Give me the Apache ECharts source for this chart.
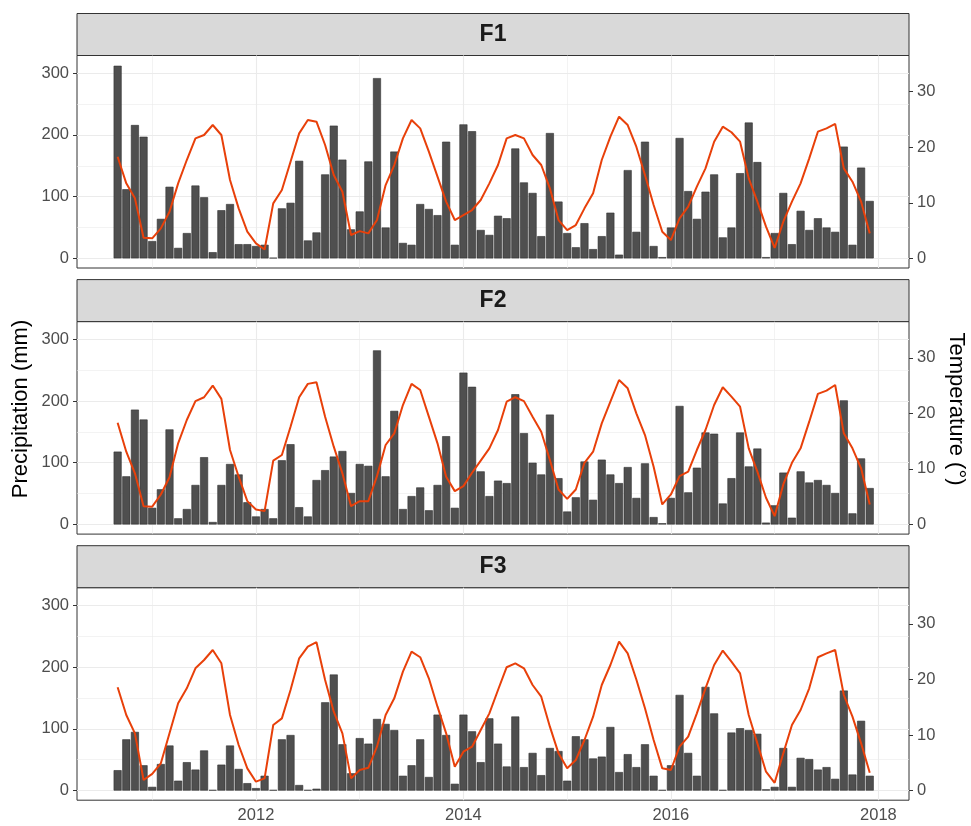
<!DOCTYPE html>
<html>
<head>
<meta charset="utf-8">
<title>Precipitation and temperature by site</title>
<script src="https://cdn.jsdelivr.net/npm/echarts@6/dist/echarts.min.js"></script>
<style>
  html, body { margin: 0; padding: 0; background: #fff; }
  #chart { width: 971px; height: 826px; }
</style>
</head>
<body>
<div id="chart"></div>
<script>
// monthly series, Sep 2010 .. Dec 2017 (88 months)
const firstYear = 2010;
const firstMonth = 9;
const facetNames = ["F1", "F2", "F3"];
const yearTicks = [2012, 2014, 2016, 2018];
const yearMinor = [2011, 2013, 2015, 2017];
const precipTicks = [0, 100, 200, 300];
const precipMinor = [50, 150, 250];
const tempTicks = [0, 10, 20, 30];

const precipF1 = [
  312, 112, 216, 197,
  28, 64, 116, 17, 41, 118, 99, 10, 78, 88, 23, 23,
  20, 22, 1, 81, 90, 158, 29, 42, 136, 215, 160, 47,
  76, 157, 292, 50, 173, 25, 22, 88, 80, 70, 189, 22,
  217, 206, 46, 38, 69, 65, 178, 123, 106, 36, 203, 92,
  41, 18, 57, 15, 36, 74, 6, 143, 43, 189, 20, 2,
  50, 195, 109, 64, 108, 136, 34, 50, 138, 220, 156, 2,
  41, 106, 23, 77, 46, 65, 50, 43, 181, 22, 147, 93
];
const tempF1 = [
  18.3, 13.5, 10.8, 3.7,
  3.6, 5.4, 8.4, 13.5, 17.7, 21.6, 22.2, 24.0, 22.2, 14.1, 9.0, 4.8,
  2.7, 1.6, 9.9, 12.3, 17.4, 22.5, 24.9, 24.6, 20.4, 15.0, 12.0, 4.2,
  4.9, 4.5, 6.9, 13.2, 16.8, 21.6, 24.9, 23.4, 19.2, 14.7, 10.2, 6.9,
  7.8, 8.7, 10.5, 13.5, 16.8, 21.6, 22.2, 21.6, 18.6, 16.8, 12.6, 6.9,
  5.1, 6.0, 9.0, 11.7, 17.7, 21.9, 25.5, 24.0, 20.1, 15.0, 9.6, 4.8,
  3.3, 7.2, 9.3, 12.9, 16.2, 21.0, 23.7, 22.7, 21.0, 14.4, 10.2, 5.7,
  1.9, 6.6, 10.2, 13.5, 18.0, 22.8, 23.4, 24.2, 16.2, 13.8, 10.2, 4.5
];

const precipF2 = [
  118, 78, 186, 170,
  27, 57, 154, 10, 25, 64, 109, 4, 64, 98, 81, 36,
  13, 25, 10, 104, 130, 28, 13, 72, 88, 110, 119, 51,
  98, 95, 282, 78, 184, 25, 46, 60, 23, 64, 143, 27,
  246, 223, 86, 46, 71, 67, 211, 148, 100, 81, 178, 75,
  21, 44, 102, 40, 105, 81, 67, 93, 43, 99, 12, 2,
  43, 192, 52, 92, 149, 147, 34, 75, 149, 94, 123, 3,
  31, 84, 11, 86, 68, 72, 64, 51, 201, 18, 107, 59
];
const tempF2 = [
  18.3, 13.1, 9.2, 3.3,
  3.2, 5.4, 8.5, 14.6, 18.8, 22.2, 22.9, 25.0, 22.6, 13.4, 8.6, 4.2,
  2.7, 2.4, 11.5, 12.5, 17.6, 22.9, 25.3, 25.6, 19.4, 14.0, 9.2, 3.3,
  4.2, 4.2, 8.7, 14.3, 16.4, 21.5, 25.3, 24.2, 19.4, 14.6, 8.6, 6.0,
  6.9, 9.3, 11.5, 13.7, 17.0, 22.1, 22.9, 22.2, 19.4, 16.7, 11.6, 6.3,
  4.6, 6.3, 11.1, 13.1, 18.2, 22.1, 26.0, 24.5, 20.0, 16.1, 10.4, 3.6,
  5.4, 8.7, 9.5, 13.4, 17.0, 21.5, 24.7, 23.0, 21.2, 13.7, 9.5, 4.8,
  1.5, 7.2, 11.1, 13.7, 18.5, 23.5, 24.1, 25.1, 16.4, 13.7, 10.1, 3.6
];

const precipF3 = [
  33, 83, 95, 41,
  6, 43, 73, 16, 46, 34, 65, 1, 42, 73, 35, 12,
  4, 24, 1, 83, 90, 9, 1, 3, 143, 188, 75, 28,
  85, 76, 116, 108, 98, 24, 41, 83, 22, 123, 90, 11,
  123, 96, 46, 117, 76, 39, 120, 38, 61, 25, 69, 64,
  16, 88, 83, 52, 55, 103, 30, 59, 38, 75, 24, 1,
  41, 155, 61, 24, 168, 125, 1, 94, 101, 98, 92, 2,
  6, 69, 6, 53, 51, 34, 38, 19, 162, 26, 113, 24
];
const tempF3 = [
  18.6, 13.6, 10.3, 1.9,
  3.0, 4.9, 10.3, 15.7, 18.4, 22.0, 23.5, 25.3, 22.9, 13.6, 8.2, 4.0,
  1.6, 2.2, 11.8, 13.0, 18.1, 23.8, 25.9, 26.7, 19.9, 14.2, 10.3, 2.2,
  3.7, 4.1, 7.9, 13.6, 16.6, 21.4, 25.0, 24.0, 20.2, 15.1, 10.3, 4.3,
  7.0, 7.9, 10.9, 13.9, 18.1, 22.2, 22.9, 22.0, 19.0, 16.9, 11.5, 6.7,
  4.0, 5.5, 9.1, 13.3, 19.0, 22.6, 26.8, 24.7, 20.0, 14.8, 9.1, 4.0,
  3.7, 7.9, 9.7, 13.9, 18.4, 22.6, 25.2, 23.2, 21.1, 13.6, 8.5, 3.4,
  1.4, 6.7, 11.8, 14.5, 18.4, 24.0, 24.7, 25.3, 17.2, 13.3, 8.5, 3.2
];

const precipByFacet = [precipF1, precipF2, precipF3];
const tempByFacet = [tempF1, tempF2, tempF3];

// month -> decimal year (bar centred on the 1st of the month)
const monthPos = precipF1.map((_, i) => firstYear + (firstMonth - 1 + i) / 12);

// layout (px)
const plotLeft = 77;
const plotWidth = 832;
const plotHeight = 212.5;
const stripHeight = 42;
const panelTop = [55.5, 321.6, 587.7];

// axis ranges (ggplot 5% expansion); temperature axis = precip / 9
const xMin = 2010.275, xMax = 2018.295;
const pMin = -15.6, pMax = 328.6;
const tMin = pMin / 9, tMax = pMax / 9;

const fontFamily = "'Liberation Sans', Arial, sans-serif";
const gridColor = "#EBEBEB";
const darkLine = "#333333";
const labelColor = "#4D4D4D";
const tickFont = 16.5;

const grids = [], xAxes = [], yAxes = [], series = [], graphics = [];

facetNames.forEach((name, g) => {
  const top = panelTop[g];
  const isBottom = g === facetNames.length - 1;

  grids.push({
    left: plotLeft, top: top, width: plotWidth, height: plotHeight,
    show: true, borderColor: darkLine, borderWidth: 1,
    backgroundColor: "transparent"
  });

  xAxes.push({
    type: "value", gridIndex: g, min: xMin, max: xMax,
    axisLine: { show: false },
    splitLine: { show: false },
    axisTick: {
      show: isBottom, length: 4, customValues: yearTicks,
      lineStyle: { color: darkLine, width: 1 }
    },
    axisLabel: {
      show: isBottom, customValues: yearTicks, margin: 7,
      color: labelColor, fontSize: tickFont, fontFamily: fontFamily,
      formatter: (v) => String(Math.round(v))
    }
  });

  yAxes.push({
    type: "value", gridIndex: g, position: "left", min: pMin, max: pMax,
    axisLine: { show: false },
    splitLine: { show: false },
    axisTick: {
      show: true, length: 4, customValues: precipTicks,
      lineStyle: { color: darkLine, width: 1 }
    },
    axisLabel: {
      customValues: precipTicks, margin: 8,
      color: labelColor, fontSize: tickFont, fontFamily: fontFamily
    }
  });
  yAxes.push({
    type: "value", gridIndex: g, position: "right", min: tMin, max: tMax,
    axisLine: { show: false },
    splitLine: { show: false },
    axisTick: {
      show: true, length: 4, customValues: tempTicks,
      lineStyle: { color: darkLine, width: 1 }
    },
    axisLabel: {
      customValues: tempTicks, margin: 8,
      color: labelColor, fontSize: tickFont, fontFamily: fontFamily
    }
  });

  // panel grid lines (major + minor, theme_bw style)
  const gridLines = [];
  precipTicks.forEach((v) => gridLines.push({ yAxis: v, lineStyle: { width: 1.1 } }));
  precipMinor.forEach((v) => gridLines.push({ yAxis: v, lineStyle: { width: 0.6 } }));
  yearTicks.forEach((v) => gridLines.push({ xAxis: v, lineStyle: { width: 1.1 } }));
  yearMinor.forEach((v) => gridLines.push({ xAxis: v, lineStyle: { width: 0.6 } }));

  series.push({
    name: name + " precipitation",
    type: "bar",
    xAxisIndex: g, yAxisIndex: 2 * g,
    barWidth: 8,
    z: 2,
    itemStyle: { color: "#4F4F4F", borderColor: "#303030", borderWidth: 0.6 },
    data: monthPos.map((x, i) => [x, precipByFacet[g][i]]),
    markLine: {
      silent: true, z: 1, animation: false,
      symbol: ["none", "none"],
      label: { show: false },
      lineStyle: { color: gridColor, type: "solid" },
      emphasis: { disabled: true },
      data: gridLines
    }
  });

  series.push({
    name: name + " temperature",
    type: "line",
    xAxisIndex: g, yAxisIndex: 2 * g + 1,
    z: 3,
    symbol: "none",
    smooth: false,
    lineStyle: { color: "#E8400A", width: 2 },
    data: monthPos.map((x, i) => [x, tempByFacet[g][i]])
  });

  // facet strip
  graphics.push({
    type: "rect",
    shape: { x: plotLeft, y: top - stripHeight, width: plotWidth, height: stripHeight },
    style: { fill: "#D9D9D9", stroke: darkLine, lineWidth: 1 }
  });
  graphics.push({
    type: "text",
    x: plotLeft + plotWidth / 2, y: top - stripHeight / 2,
    style: {
      text: name, fill: "#1A1A1A", fontSize: 23, fontWeight: "bold",
      fontFamily: fontFamily, align: "center", verticalAlign: "middle"
    }
  });
});

// axis titles
graphics.push({
  type: "text", x: 21, y: 409, rotation: Math.PI / 2,
  style: {
    text: "Precipitation (mm)", fill: "#000000", fontSize: 22,
    fontFamily: fontFamily, align: "center", verticalAlign: "middle"
  }
});
graphics.push({
  type: "text", x: 956, y: 409, rotation: -Math.PI / 2,
  style: {
    text: "Temperature (°)", fill: "#000000", fontSize: 22,
    fontFamily: fontFamily, align: "center", verticalAlign: "middle"
  }
});

const chart = echarts.init(document.getElementById("chart"));
chart.setOption({
  animation: false,
  backgroundColor: "#ffffff",
  grid: grids,
  xAxis: xAxes,
  yAxis: yAxes,
  series: series,
  graphic: graphics
});
</script>
</body>
</html>
